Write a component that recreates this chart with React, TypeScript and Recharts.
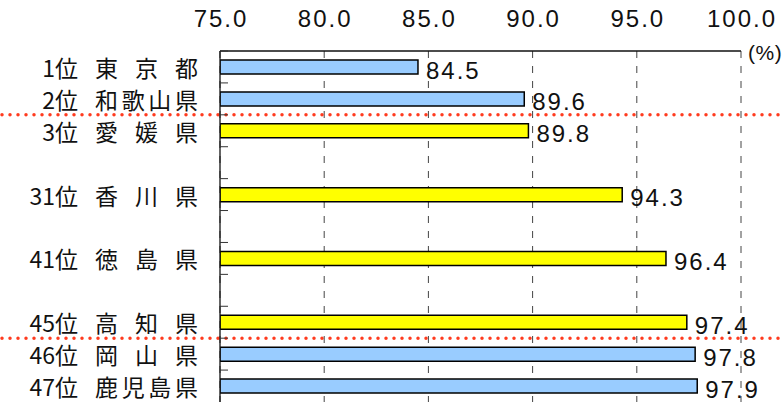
import { BarChart, Bar, XAxis, YAxis, CartesianGrid, Cell, LabelList, ReferenceLine } from "recharts"

const ranks = ["1位", "2位", "3位", "", "31位", "", "41位", "", "45位", "46位", "47位"]
const prefectures = ["東京都", "和歌山県", "愛媛県", "", "香川県", "", "徳島県", "", "高知県", "岡山県", "鹿児島県"]
const rates = [84.5, 89.6, 89.8, null, 94.3, null, 96.4, null, 97.4, 97.8, 97.9]
const shikoku = ["愛媛県", "香川県", "徳島県", "高知県"]
const xTicks = [75, 80, 85, 90, 95, 100]
const dividers = ["3位", "46位"]

const data = ranks.map((r, i) => ({
  key: r || `gap${i}`,
  rank: r,
  name: prefectures[i],
  value: rates[i],
}))

const W = 784
const H = 402
const Y_W = 220
const M_RIGHT = 43
const NUM_FONT = "'Liberation Sans', Arial, sans-serif"
const JP_FONT = "'Noto Sans CJK JP', sans-serif"

function XTick({ x, y, payload }: any) {
  return (
    <text x={x + 1} y={y - 24} textAnchor="middle" fontFamily={NUM_FONT} fontSize={24} letterSpacing={2} fill="#111">
      {Number(payload.value).toFixed(1)}
    </text>
  )
}

function YTick({ x, y, payload }: any) {
  const row = data[payload.index] ?? data.find((d) => d.key === payload.value)
  const half = payload.offset ?? 16
  const chars = row && row.name ? row.name.split("") : []
  const size = 23
  const left = x - 125
  const right = x - 22
  const step = chars.length > 1 ? (right - left - size) / (chars.length - 1) : 0
  return (
    <g>
      <line x1={x} x2={x + 8} y1={y - half} y2={y - half} stroke="#333" strokeWidth={1} />
      {row && row.rank ? (
        <text x={x - 142} y={y} textAnchor="end" dominantBaseline="central" fontFamily={JP_FONT} fontSize={size} fill="#111">
          {row.rank}
        </text>
      ) : null}
      {chars.map((c: string, i: number) => (
        <text key={i} x={left + i * step} y={y} dominantBaseline="central" fontFamily={JP_FONT} fontSize={size} fill="#111">
          {c}
        </text>
      ))}
    </g>
  )
}

function ValueLabel({ x, y, width, height, value }: any) {
  if (value == null) return null
  return (
    <text x={x + width + 8} y={y + height / 2 + 11.5} fontFamily={NUM_FONT} fontSize={24} letterSpacing={2} fill="#111">
      {Number(value).toFixed(1)}
    </text>
  )
}

function Divider(p: any) {
  return (
    <line
      x1={p.x1 - Y_W + 2}
      x2={p.x2 + M_RIGHT}
      y1={p.y1}
      y2={p.y1}
      stroke="#ff3b1f"
      strokeWidth={3.5}
      strokeDasharray="0 8"
      strokeLinecap="round"
    />
  )
}

export default function App() {
  return (
    <div style={{ position: "absolute", left: 0, top: 0, width: W, height: H }}>
      <BarChart
        width={W}
        height={H}
        data={data}
        layout="vertical"
        margin={{ top: 0, right: M_RIGHT, bottom: 0, left: 0 }}
      >
        <CartesianGrid horizontal={false} vertical={true} stroke="#444" strokeDasharray="7 8" />
        <XAxis
          type="number"
          orientation="top"
          domain={[75, 100]}
          ticks={xTicks}
          allowDataOverflow
          height={51}
          tickSize={0}
          tickMargin={0}
          tickLine={false}
          axisLine={{ stroke: "#111", strokeWidth: 1.3 }}
          tick={<XTick />}
        />
        <YAxis
          type="category"
          dataKey="key"
          width={Y_W}
          tickSize={0}
          tickMargin={0}
          tickLine={false}
          interval={0}
          axisLine={{ stroke: "#111", strokeWidth: 1.3 }}
          tick={<YTick />}
        />
        <Bar dataKey="value" barSize={14} stroke="#000" strokeWidth={1.5} isAnimationActive={false}>
          {data.map((d, i) => (
            <Cell key={i} fill={shikoku.includes(d.name) ? "#ffff00" : "#99ccff"} />
          ))}
          <LabelList dataKey="value" content={<ValueLabel />} />
        </Bar>
        {dividers.map((k) => (
          <ReferenceLine key={k} y={k} position="start" ifOverflow="visible" shape={<Divider />} />
        ))}
      </BarChart>
      <div
        style={{
          position: "absolute",
          left: 748,
          top: 42,
          fontFamily: NUM_FONT,
          fontSize: 21,
          letterSpacing: 0.5,
          lineHeight: 1,
          color: "#111",
          whiteSpace: "nowrap",
        }}
      >
        (%)
      </div>
    </div>
  )
}
